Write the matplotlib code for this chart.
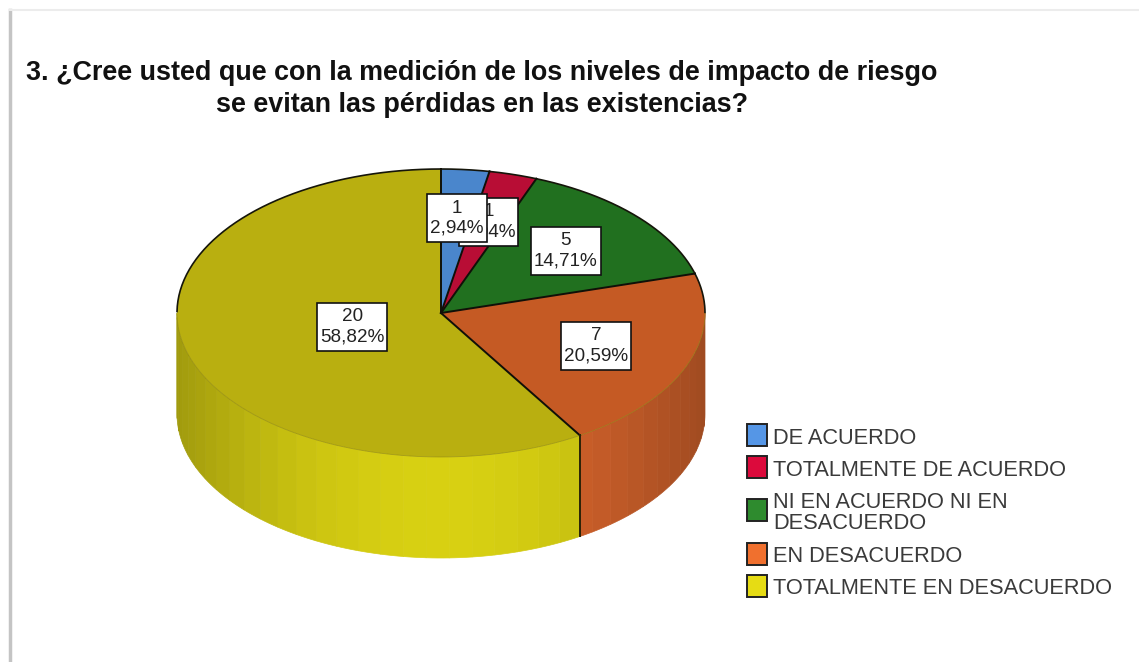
import numpy as np
import matplotlib
matplotlib.use("Agg")
import matplotlib.pyplot as plt
from matplotlib.patches import Rectangle

plt.rcParams["font.family"] = ["Liberation Sans", "DejaVu Sans"]

title_lines = [
    "3. ¿Cree usted que con la medición de los niveles de impacto de riesgo",
    "se evitan las pérdidas en las existencias?",
]
categories = [
    "DE ACUERDO",
    "TOTALMENTE DE ACUERDO",
    "NI EN ACUERDO NI EN\nDESACUERDO",
    "EN DESACUERDO",
    "TOTALMENTE EN DESACUERDO",
]
counts = [1, 1, 5, 7, 20]
top_colors = ["#4a86cc", "#b80d35", "#21701f", "#c55a24", "#b9af10"]
wall_colors = ["#5596e6", "#dc0a3c", "#2e8b2e", "#d8652c", "#d8d012"]
legend_colors = ["#5596e6", "#dc0a3c", "#2e8b2e", "#f0702e", "#e6dc14"]
label_radius = [0.66, 0.66, 0.64, 0.63, 0.35]
legend_rows = [435, 467, 510, 554, 586]

# pie geometry in image pixels
CX, CY = 441, 313
RX, RY = 264, 144
DEPTH = 101


def ellipse_xy(angle, radius=1.0):
    # angle in degrees, clockwise from the top of the pie
    a = np.radians(angle)
    return CX + RX * radius * np.sin(a), CY - RY * radius * np.cos(a)


def shade(color, x):
    rgb = np.array(matplotlib.colors.to_rgb(color))
    u = (x - 440) / RX
    return tuple(rgb * (1 - 0.26 * u**2))


def draw_wall(ax, start, stop, color):
    # vertical bands along the front of the cylinder
    start, stop = max(start, 90), min(stop, 270)
    if stop <= start:
        return
    edges = np.arange(start, stop, 5.0)
    edges = np.append(edges, stop)
    for a0, a1 in zip(edges[:-1], edges[1:]):
        angles = np.linspace(a0, a1, 5)
        x, y = ellipse_xy(angles)
        px = np.concatenate([x, x[::-1]])
        py = np.concatenate([y, y[::-1] + DEPTH])
        c = shade(color, x.mean())
        ax.fill(px, py, fc=c, ec=c, lw=0.5, zorder=2)


fig = plt.figure(figsize=(11.39, 6.62), dpi=100)
ax = fig.add_axes([0, 0, 1, 1])
ax.set_xlim(0, 1139)
ax.set_ylim(662, 0)
ax.axis("off")

# frame of the pasted picture
ax.plot([10, 10], [10, 662], color="#c4c4c4", lw=2.5, zorder=1)
ax.plot([10, 1139], [10, 10], color="#ececec", lw=1.5, zorder=1)

for i, line in enumerate(title_lines):
    ax.text(482, 80 + i * 32, line, ha="center", va="baseline",
            fontsize=19.4, fontweight="bold", color="#111111", zorder=6)

total = sum(counts)
cum = np.cumsum([0] + counts) / total * 360

for i in range(len(counts)):
    draw_wall(ax, cum[i], cum[i + 1], wall_colors[i])

for i in range(len(counts)):
    angles = np.linspace(cum[i], cum[i + 1], 200)
    x, y = ellipse_xy(angles)
    ax.fill(np.r_[CX, x], np.r_[CY, y], fc=top_colors[i], ec="none", zorder=3)
    # back half of the rim is outlined, the front is only slightly darker
    back = np.cos(np.radians(angles)) >= 0
    xb, yb = np.where(back, x, np.nan), np.where(back, y, np.nan)
    ax.plot(xb, yb, color="#15150a", lw=1.2, zorder=4)
    front_x, front_y = np.where(~back, x, np.nan), np.where(~back, y, np.nan)
    ax.plot(front_x, front_y, color="#8c8410", lw=0.6, alpha=0.6, zorder=4)

for a in cum[:-1]:
    x, y = ellipse_xy(a)
    ax.plot([CX, x], [CY, y], color="#101008", lw=1.4, zorder=4)

# wedge edge running down the visible wall
x, y = ellipse_xy(cum[4])
ax.plot([x, x], [y, y + DEPTH], color="#2a2208", lw=1.4, zorder=4)

renderer = fig.canvas.get_renderer()
for i in range(len(counts)):
    mid = (cum[i] + cum[i + 1]) / 2
    x, y = ellipse_xy(mid, label_radius[i])
    pct = f"{counts[i] / total * 100:.2f}".replace(".", ",")
    z = 10 - i if i < 2 else 6
    t = ax.text(x, y, f"{counts[i]}\n{pct}%", ha="center", va="center",
                fontsize=13.6, color="#222222", linespacing=1.22, zorder=z)
    # white box fitted around the text, taller than a plain bbox pad gives
    bb = t.get_window_extent(renderer)
    w, h = bb.width + 6, bb.height + 11
    ax.add_patch(Rectangle((x - w / 2, y - h / 2), w, h, fc="white", ec="#111111",
                           lw=1.2, zorder=z - 0.1))

for name, color, row in zip(categories, legend_colors, legend_rows):
    ax.add_patch(Rectangle((747, row - 11), 20, 22, fc=color, ec="#222222", lw=1.4, zorder=5))
    ax.text(773, row + 3, name, ha="left", va="center", fontsize=15.7,
            color="#3a3a3a", linespacing=1.0, zorder=5)

fig.savefig("out.png", dpi=100)
